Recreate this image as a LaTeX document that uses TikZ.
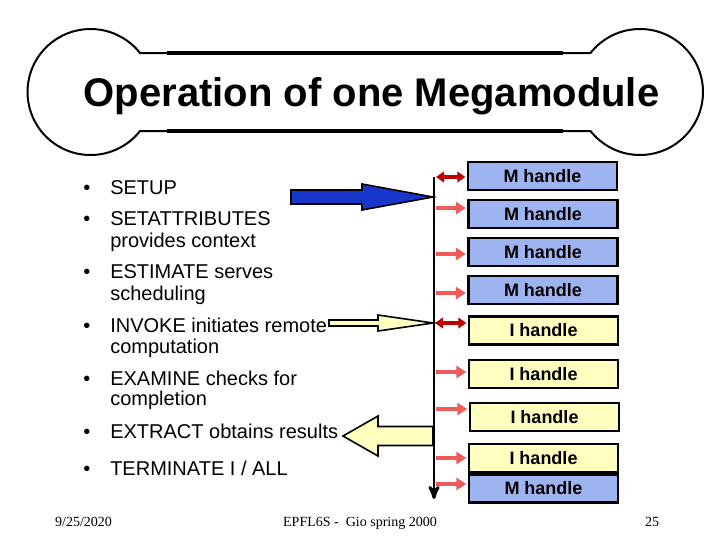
\documentclass[tikz,border=0pt]{standalone}
\usepackage{fontspec}
\setmainfont{Liberation Sans}
\newfontfamily\footfont{Liberation Serif}
\usetikzlibrary{arrows,arrows.meta,positioning,calc}

\definecolor{mblue}{RGB}{158,180,240}
\definecolor{iyellow}{RGB}{255,255,192}
\definecolor{darkred}{RGB}{192,0,0}
\definecolor{lightred}{RGB}{240,90,90}
\definecolor{setupblue}{RGB}{24,54,204}

\newcommand\itembullet{\llap{\textbullet\hspace{15pt}}}

\begin{document}
\begin{tikzpicture}[x=0.75pt,y=-0.75pt,
    item/.style={anchor=base west,inner sep=0pt,font=\fontsize{15}{18}\selectfont,
      execute at begin node=\itembullet},
    sub item/.style={anchor=base west,inner sep=0pt,font=\fontsize{15}{18}\selectfont},
    handle box/.style={draw,line width=2pt,minimum width=111.75pt,minimum height=21pt,
      inner sep=0pt,font=\fontsize{13.5}{16}\bfseries\selectfont},
    m handle/.style={handle box,fill=mblue},
    i handle/.style={handle box,fill=iyellow},
    two way/.style={{Triangle[length=6pt,width=8pt]}-{Triangle[length=6pt,width=8pt]},
      line width=2.4pt,darkred,shorten <=1.5pt,shorten >=1pt},
    one way/.style={-{Triangle[length=7.5pt,width=9pt]},line width=3pt,lightred,
      shorten <=1.5pt,shorten >=1pt},
    block arrow/.style={draw=black,line width=1.2pt,line join=miter},
    footer/.style={anchor=base,inner sep=0pt,font=\footfont\fontsize{10.5}{12}\selectfont}]
    \useasboundingbox (0,0) rectangle (720,540);

    % title bone
    \draw[line width=1.5pt] (140,53) -- (590.5,53)
        arc[start angle=141.75,end angle=-141.75,radius=47.25pt]
        -- (140,131)
        arc[start angle=-38.25,end angle=-321.75,radius=47.25pt] -- cycle;
    \draw[line width=3pt] (167,53) -- (563,53);
    \draw[line width=3pt] (167,131) -- (563,131);
    \node[anchor=base,inner sep=0pt,font=\fontsize{30}{36}\bfseries\selectfont]
        (title) at (371.5,106) {Operation of one Megamodule};

    % calls
    \node[item] (setup) at (110,194) {SETUP};
    \node[item] (setattr) at (110,225) {SETATTRIBUTES};
    \node[sub item] (setattr2) at (110,247) {provides context};
    \node[item] (estimate) at (110,278) {ESTIMATE serves};
    \node[sub item] (estimate2) at (110,300) {scheduling};
    \node[item] (invoke) at (110,332) {INVOKE initiates remote};
    \node[sub item] (invoke2) at (110,353) {computation};
    \node[item] (examine) at (110,385) {EXAMINE checks for};
    \node[sub item] (examine2) at (110,405) {completion};
    \node[item] (extract) at (110,438) {EXTRACT obtains results};
    \node[item] (terminate) at (110,475) {TERMINATE I / ALL};

    % handles
    \node[m handle] (m1) at (542.5,176) {M handle};
    \node[m handle] (m2) at (543,214) {M handle};
    \node[m handle] (m3) at (543,252) {M handle};
    \node[m handle] (m4) at (543,290) {M handle};
    \node[i handle] (i1) at (543.5,330.5) {I handle};
    \node[i handle] (i2) at (543.5,374) {I handle};
    \node[i handle] (i3) at (544.5,417) {I handle};
    \node[i handle] (i4) at (543.5,458) {I handle};
    \node[m handle] (m5) at (543.5,488.5) {M handle};

    \coordinate (bus top) at (434,177);
    \coordinate (bus end) at (434,499);
    \coordinate (setup tip) at (433,197);
    \coordinate (invoke tip) at (433,323);
    \coordinate (extract tip) at (343,436);

    % arrows to the handles
    \draw[two way] (bus top) -- (bus top -| m1.west);
    \draw[two way] (invoke tip) -- (invoke tip -| i1.west);
    \foreach \b/\dy in {m2/4.5,m3/-1.5,m4/-2.25,i2/1.5,i3/6,i4/0,m5/3.4}
        \draw[one way] ([yshift=\dy pt]\b.west -| bus top) -- ([yshift=\dy pt]\b.west);

    % block arrows
    \draw[block arrow,fill=setupblue] (setup tip) -- ++(-71,-13) -- ++(0,6)
        -- ++(-71,0) -- ++(0,14) -- ++(71,0) -- ++(0,6) -- cycle;
    \draw[block arrow,fill=iyellow] (invoke tip) -- ++(-55,-8) -- ++(0,5)
        -- ++(-49,0) -- ++(0,6) -- ++(49,0) -- ++(0,5) -- cycle;
    \draw[block arrow,fill=iyellow] (extract tip) -- ++(35,-20) -- ++(0,10.5)
        -- ++(55,0) -- ++(0,19) -- ++(-55,0) -- ++(0,10.5) -- cycle;

    % bus
    \draw[line width=2.2pt,->,>=stealth'] (bus top) -- (bus end);

    % footer
    \node[footer] (date) at (83.5,526) {9/25/2020};
    \node[footer] (course) at (360,526) {EPFL6S - \ Gio spring 2000};
    \node[footer] (page) at (652,526) {25};
\end{tikzpicture}
\end{document}
